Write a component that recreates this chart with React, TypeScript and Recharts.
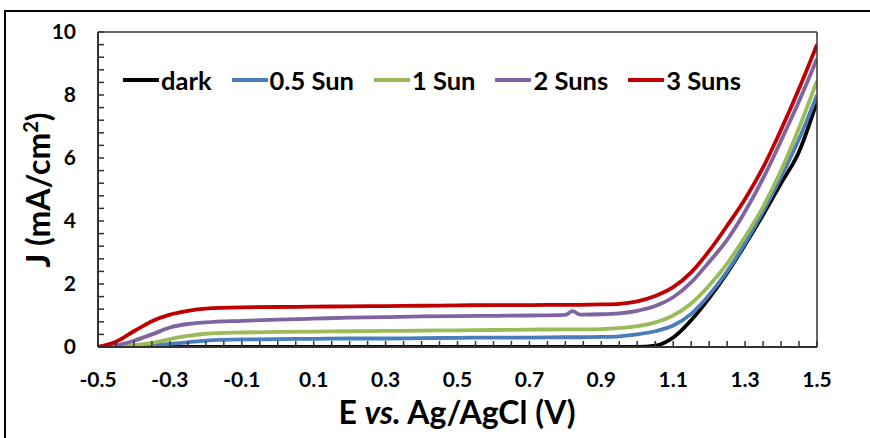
import { LineChart, Line, XAxis, YAxis } from "recharts"

// potential (V vs Ag/AgCl)
const potential = [
  -0.5, -0.45, -0.4, -0.35, -0.3, -0.25, -0.2, -0.1, 0, 0.1, 0.2, 0.3, 0.4, 0.5,
  0.6, 0.7, 0.8, 0.82, 0.84, 0.9, 0.95, 1.0, 1.05, 1.1, 1.15, 1.2, 1.25, 1.3,
  1.35, 1.4, 1.45, 1.5,
]

// current density (mA/cm2)
const dark = [
  0, 0, 0, 0, 0, 0, 0, 0, 0, 0, 0, 0, 0, 0, 0, 0, 0, 0, 0, 0, 0, 0, 0.04, 0.3,
  0.85, 1.55, 2.35, 3.25, 4.2, 5.2, 6.2, 7.8,
]
const halfSun = [
  0, 0, 0.02, 0.05, 0.1, 0.15, 0.2, 0.24, 0.25, 0.26, 0.27, 0.27, 0.28, 0.29,
  0.3, 0.3, 0.31, 0.31, 0.31, 0.32, 0.34, 0.4, 0.5, 0.68, 1.05, 1.65, 2.4, 3.3,
  4.3, 5.4, 6.6, 8.0,
]
const oneSun = [
  0, 0.02, 0.06, 0.13, 0.25, 0.35, 0.42, 0.46, 0.48, 0.49, 0.5, 0.51, 0.52,
  0.53, 0.54, 0.55, 0.56, 0.56, 0.56, 0.57, 0.6, 0.66, 0.78, 1.0, 1.38, 1.95,
  2.65, 3.5, 4.45, 5.6, 6.95, 8.45,
]
const twoSuns = [
  0, 0.05, 0.2, 0.4, 0.62, 0.73, 0.78, 0.83, 0.87, 0.9, 0.93, 0.95, 0.97,
  0.98, 0.99, 1.0, 1.02, 1.14, 1.03, 1.04, 1.07, 1.15, 1.3, 1.58, 2.05, 2.7,
  3.4, 4.3, 5.35, 6.55, 7.8, 9.15,
]
const threeSuns = [
  0, 0.17, 0.5, 0.82, 1.03, 1.15, 1.22, 1.26, 1.27, 1.28, 1.29, 1.3, 1.31,
  1.32, 1.33, 1.33, 1.34, 1.34, 1.34, 1.35, 1.37, 1.45, 1.62, 1.9, 2.37, 3.05,
  3.85, 4.7, 5.7, 6.9, 8.2, 9.6,
]

const series = [
  { key: "dark", name: "dark", color: "#000000", values: dark },
  { key: "half", name: "0.5 Sun", color: "#4A7EBB", values: halfSun },
  { key: "one", name: "1 Sun", color: "#9BBB59", values: oneSun },
  { key: "two", name: "2 Suns", color: "#8064A2", values: twoSuns },
  { key: "three", name: "3 Suns", color: "#C00000", values: threeSuns },
]

const xLabels = [-0.5, -0.3, -0.1, 0.1, 0.3, 0.5, 0.7, 0.9, 1.1, 1.3, 1.5]
const yLabels = [0, 2, 4, 6, 8, 10]

const xTicks: number[] = []
for (let i = 0; i <= 40; i++) xTicks.push(Math.round((-0.5 + i * 0.05) * 100) / 100)
const yTicks: number[] = []
for (let i = 0; i <= 25; i++) yTicks.push(Math.round(i * 0.4 * 10) / 10)

const data = potential.map((e, i) => {
  const row: Record<string, number> = { e }
  series.forEach((s) => {
    row[s.key] = s.values[i]
  })
  return row
})

const FONT = "Lato, 'Open Sans', sans-serif"
const AXIS = "#333333"

function XTick(props: any) {
  const { x, y, payload } = props
  const label = xLabels.find((v) => Math.abs(v - payload.value) < 1e-6)
  return (
    <g>
      <line x1={x} x2={x} y1={y} y2={y - 6} stroke={AXIS} strokeWidth={1.5} />
      {label !== undefined && (
        <text
          x={x}
          y={y + 40}
          textAnchor="middle"
          fontFamily={FONT}
          fontWeight={700}
          fontSize={21}
          fill="#000"
        >
          {label.toFixed(1)}
        </text>
      )}
    </g>
  )
}

function YTick(props: any) {
  const { x, y, payload } = props
  const label = yLabels.find((v) => Math.abs(v - payload.value) < 1e-6)
  return (
    <g>
      <line x1={x} x2={x + 6} y1={y} y2={y} stroke={AXIS} strokeWidth={1.5} />
      {label !== undefined && (
        <text
          x={x - 22}
          y={y + 7}
          textAnchor="end"
          fontFamily={FONT}
          fontWeight={700}
          fontSize={21}
          fill="#000"
        >
          {label}
        </text>
      )}
    </g>
  )
}

export default function App() {
  return (
    <div
      style={{
        position: "fixed",
        left: 0,
        top: 0,
        width: 870,
        height: 438,
        overflow: "hidden",
        background: "#fff",
        fontFamily: FONT,
      }}
    >
      <div
        style={{
          position: "absolute",
          left: 4,
          top: 10,
          width: 900,
          height: 460,
          border: "2.5px solid #000",
        }}
      />
      <div style={{ position: "absolute", left: 0, top: 0 }}>
        <LineChart
          width={870}
          height={438}
          data={data}
          margin={{ top: 22, right: 43, bottom: 41, left: 38 }}
        >
          <XAxis
            dataKey="e"
            type="number"
            domain={[-0.5, 1.5]}
            ticks={xTicks}
            interval={0}
            tick={<XTick />}
            tickLine={false}
            tickSize={0}
            tickMargin={0}
            height={50}
            axisLine={{ stroke: AXIS, strokeWidth: 2 }}
            allowDataOverflow
          />
          <XAxis
            xAxisId="top"
            orientation="top"
            type="number"
            dataKey="e"
            domain={[-0.5, 1.5]}
            tick={false}
            tickLine={false}
            height={10}
            axisLine={{ stroke: AXIS, strokeWidth: 1.5 }}
          />
          <YAxis
            type="number"
            domain={[0, 10]}
            ticks={yTicks}
            interval={0}
            tick={<YTick />}
            tickLine={false}
            tickSize={0}
            tickMargin={0}
            width={60}
            axisLine={{ stroke: AXIS, strokeWidth: 2 }}
            allowDataOverflow
          />
          <YAxis
            yAxisId="right"
            orientation="right"
            type="number"
            domain={[0, 10]}
            tick={false}
            tickLine={false}
            width={10}
            axisLine={{ stroke: AXIS, strokeWidth: 1.5 }}
          />
          {series.map((s) => (
            <Line
              key={s.key}
              dataKey={s.key}
              name={s.name}
              type="monotone"
              stroke={s.color}
              strokeWidth={3.8}
              dot={false}
              isAnimationActive={false}
            />
          ))}
        </LineChart>
      </div>

      {/* legend */}
      <div
        style={{
          position: "absolute",
          left: 123,
          top: 64,
          display: "flex",
          alignItems: "center",
          gap: 20,
          fontWeight: 700,
          fontSize: 25.5,
          lineHeight: "32px",
          color: "#000",
          whiteSpace: "nowrap",
        }}
      >
        {series.map((s) => (
          <div key={s.key} style={{ display: "flex", alignItems: "center" }}>
            <span
              style={{
                display: "inline-block",
                width: 36,
                height: 3.5,
                background: s.color,
                marginRight: 2,
              }}
            />
            <span>{s.name}</span>
          </div>
        ))}
      </div>

      {/* axis titles */}
      <div
        style={{
          position: "absolute",
          left: 0,
          width: 914,
          top: 396,
          textAlign: "center",
          fontWeight: 700,
          fontSize: 32,
          lineHeight: "32px",
          color: "#000",
          whiteSpace: "nowrap",
        }}
      >
        E <i>vs.</i> Ag/AgCl (V)
      </div>
      <div
        style={{
          position: "absolute",
          left: 38,
          top: 190,
          transform: "translate(-50%, -50%) rotate(-90deg)",
          fontWeight: 700,
          fontSize: 32,
          lineHeight: "34px",
          color: "#000",
          whiteSpace: "nowrap",
        }}
      >
        J (mA/cm<sup style={{ fontSize: 20, lineHeight: 0 }}>2</sup>)
      </div>
    </div>
  )
}
